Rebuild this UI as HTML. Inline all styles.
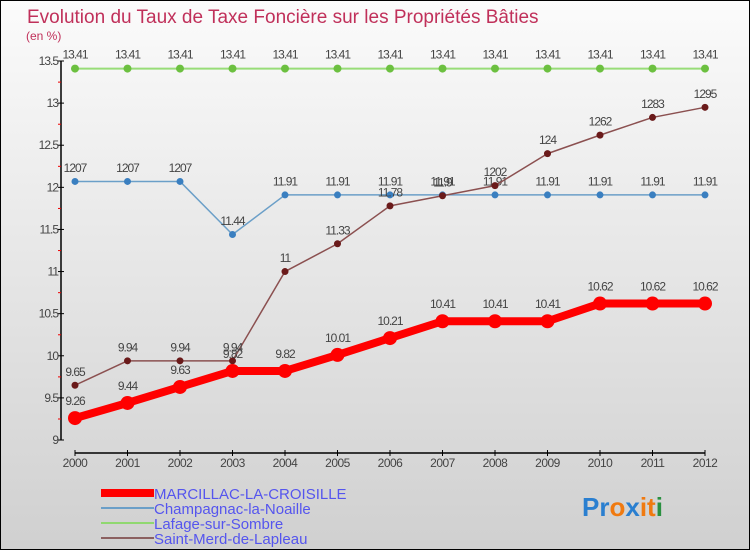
<!DOCTYPE html>
<html><head><meta charset="utf-8"><style>
body{margin:0}
#c{width:750px;height:550px;position:relative;overflow:hidden;box-sizing:border-box;border:1px solid #000;background:linear-gradient(#fbfbfb,#d0d0d0);font-family:"Liberation Sans",sans-serif}
</style></head><body>
<div id="c">
<svg width="750" height="550" id="s" style="position:absolute;left:-1px;top:-1px">
<text x="27" y="23" font-size="19" fill="#c0305a">Evolution du Taux de Taxe Foncière sur les Propriétés Bâties</text>
<text x="26" y="40" font-size="12" fill="#c0305a">(en %)</text>
<g id="axes"></g><g id="series"></g>
<g font-size="15" fill="#5555ee">
<rect x="101" y="489" width="53" height="8" fill="#f00"/>
<text x="154" y="499">MARCILLAC-LA-CROISILLE</text>
<rect x="101" y="507" width="53" height="2" fill="#6b9fc8"/>
<text x="154" y="514">Champagnac-la-Noaille</text>
<rect x="101" y="522" width="53" height="2" fill="#90d870"/>
<text x="154" y="529">Lafage-sur-Sombre</text>
<rect x="101" y="537" width="53" height="2" fill="#8b6060"/>
<text x="154" y="544">Saint-Merd-de-Lapleau</text>
</g>
<text x="582" y="516" font-size="26" font-weight="bold"><tspan fill="#2a7fd0">Pr</tspan><tspan fill="#f07a10">o</tspan><tspan fill="#2a7fd0">x</tspan><tspan fill="#f07a10">it</tspan><tspan fill="#2a9040">i</tspan></text>
</svg></div>
<script>
const years=[2000,2001,2002,2003,2004,2005,2006,2007,2008,2009,2010,2011,2012];
const yTicks=[9,9.5,10,10.5,11,11.5,12,12.5,13,13.5];
const yTickLabels=["9","9.5","10","10.5","11","11.5","12","12.5","13","13.5"];
const marcillac=[9.26,9.44,9.63,9.82,9.82,10.01,10.21,10.41,10.41,10.41,10.62,10.62,10.62];
const champagnac=[12.07,12.07,12.07,11.44,11.91,11.91,11.91,11.91,11.91,11.91,11.91,11.91,11.91];
const lafage=[13.41,13.41,13.41,13.41,13.41,13.41,13.41,13.41,13.41,13.41,13.41,13.41,13.41];
const saintMerd=[9.65,9.94,9.94,9.94,11,11.33,11.78,11.9,12.02,12.4,12.62,12.83,12.95];
const NS="http://www.w3.org/2000/svg";
const xS=i=>75+i*52.5;
const yS=v=>440-(v-9)*(379/4.5);
function mk(t,a,p){const e=document.createElementNS(NS,t);for(const k in a)e.setAttribute(k,a[k]);p.appendChild(e);return e;}
const ax=document.getElementById('axes'),se=document.getElementById('series');
let l=mk('line',{x1:61,y1:61,x2:61,y2:440,stroke:'#000','stroke-width':1.5},ax);


l=mk('line',{x1:75,y1:453,x2:705,y2:453,stroke:'#000','stroke-width':1.5},ax);


yTicks.forEach((v,i)=>{
 const y=yS(v);
 mk('line',{x1:58,y1:y,x2:64,y2:y,stroke:'#000'},ax);
 if(i<yTicks.length-1) mk('line',{x1:58,y1:y-21,x2:61,y2:y-21,stroke:'#e00'},ax);
 const t=mk('text',{x:58,y:y+4,'font-size':12,'text-anchor':'end',fill:'#444','letter-spacing':'-1'},ax);
 t.textContent=yTickLabels[i];
 
 
});
years.forEach((yr,i)=>{
 const x=xS(i);
 mk('line',{x1:x,y1:450,x2:x,y2:456,stroke:'#000'},ax);
 const t=mk('text',{x:x,y:467,'font-size':12,'text-anchor':'middle',fill:'#444','letter-spacing':'-0.5'},ax);
 t.textContent=yr;
 
 
});
function series(d,name,color,w,r,dot){
 const g=mk('g',{},se);
 
 
 const p=mk('polyline',{points:d.map((v,i)=>xS(i)+','+yS(v)).join(' '),fill:'none',stroke:color,'stroke-width':w,'stroke-linejoin':'round'},g);
 
 
 d.forEach((v,i)=>{
  const c=mk('circle',{cx:xS(i),cy:yS(v),r:r,fill:dot},g);
  
  
  const t=mk('text',{x:xS(i),y:yS(v)-(r+6),'font-size':12,'text-anchor':'middle',fill:'#444','letter-spacing':'-1'},g);
  t.textContent=String(v).replace(/^(\d+)\.(\d+)$/,(m,a,b)=>v>=12&&v<13?a+b:m);
  
  
 });
}
series(lafage,'lafage','#98dd78',2,4,'#6cc040');
series(champagnac,'champagnac','#6b9fc8',1.5,3.5,'#3a7fc0');
series(saintMerd,'saint-merd','#8b5050',1.5,3.5,'#6a1a1a');
series(marcillac,'marcillac','#f00',8,7,'#f00');
</script>
</body></html>
